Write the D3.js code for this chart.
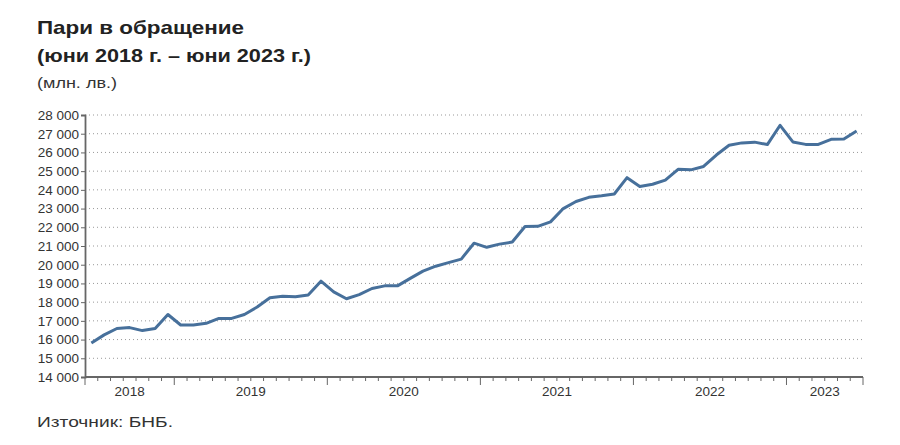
<!DOCTYPE html>
<html>
<head>
<meta charset="utf-8">
<script src="https://cdn.jsdelivr.net/npm/d3@7"></script>
<style>
  body { margin: 0; background: #fff; font-family: "Liberation Sans", Arial, sans-serif; }
</style>
</head>
<body>
<svg id="chart" width="900" height="445" viewBox="0 0 900 445"></svg>
<script>
// monthly values, June 2018 - June 2023 (million BGN)
const months = d3.range(61).map(i => new Date(2018, 5 + i, 1));
const currency = [
  15820, 16250, 16590, 16640, 16480, 16590, 17340, 16780, 16780, 16870,
  17130, 17130, 17340, 17740, 18230, 18320, 18290, 18380, 19120, 18550,
  18180, 18400, 18730, 18870, 18870, 19270, 19660, 19920, 20110, 20300,
  21150, 20930, 21100, 21210, 22040, 22050, 22290, 23000, 23380, 23600,
  23680, 23780, 24650, 24180, 24300, 24520, 25100, 25070, 25250, 25860,
  26380, 26510, 26550, 26420, 27450, 26560, 26430, 26430, 26700, 26720,
  27140
];
const yTicks = d3.range(14000, 28001, 1000);
const yearLabels = ["2018", "2019", "2020", "2021", "2022", "2023"];

const svg = d3.select("#chart");
const plotLeft = 85, plotRight = 863, plotTop = 115, plotBottom = 377;

// titles (text in the original is rendered wider than Liberation Sans, so stretch it)
function label(txt, xPos, yPos, size, bold, len, colour) {
  return svg.append("text").attr("x", xPos).attr("y", yPos)
    .style("font-size", size + "px").style("font-weight", bold ? "bold" : "normal")
    .attr("fill", colour)
    .attr("textLength", len).attr("lengthAdjust", "spacingAndGlyphs")
    .text(txt);
}
label("Пари в обращение", 37, 34, 18.5, true, 207, "#222");
label("(юни 2018 г. – юни 2023 г.)", 37, 62, 18.5, true, 274, "#222");
label("(млн. лв.)", 37, 88, 15, false, 80, "#333");

const x = d3.scaleBand().domain(d3.range(months.length)).range([plotLeft, plotRight]);
const y = d3.scaleLinear().domain([14000, 28000]).range([plotBottom, plotTop]);

// dotted grid
svg.append("g").selectAll("line")
  .data(yTicks.slice(1))
  .enter().append("line")
  .attr("x1", plotLeft).attr("x2", plotRight)
  .attr("y1", d => y(d)).attr("y2", d => y(d))
  .attr("stroke", "#999").attr("stroke-width", 1)
  .attr("stroke-dasharray", "1,3");

// y axis
const fmt = d => d3.format(",")(d).replace(/,/g, " ");
const yAxis = svg.append("g").attr("transform", `translate(${plotLeft},0)`)
  .call(d3.axisLeft(y).tickValues(yTicks).tickFormat(fmt).tickSize(4).tickPadding(2));
yAxis.select(".domain").attr("stroke", "#666").attr("stroke-width", 1.8);
yAxis.selectAll(".tick line").attr("stroke", "#666");
yAxis.selectAll("text").style("font-size", "13.5px").attr("fill", "#333")
  .style("font-family", "'Liberation Sans', Arial, sans-serif");

// x axis: baseline, month ticks, longer ticks at year starts
const xg = svg.append("g");
xg.append("line").attr("x1", plotLeft).attr("x2", plotRight)
  .attr("y1", plotBottom).attr("y2", plotBottom).attr("stroke", "#666").attr("stroke-width", 1.8);
const bounds = d3.range(months.length + 1);
xg.selectAll(".mt").data(bounds).enter().append("line")
  .attr("x1", i => i < months.length ? x(i) : plotRight)
  .attr("x2", i => i < months.length ? x(i) : plotRight)
  .attr("y1", plotBottom)
  .attr("y2", i => (i === 0 || i === months.length || months[i].getMonth() === 0) ? plotBottom + 8 : plotBottom + 4)
  .attr("stroke", "#666");

yearLabels.forEach(yr => {
  const idx = d3.range(months.length).filter(i => months[i].getFullYear() === +yr);
  const x0 = x(idx[0]), x1 = x(idx[idx.length - 1]) + x.bandwidth();
  xg.append("text").attr("x", (x0 + x1) / 2).attr("y", 396)
    .attr("text-anchor", "middle").style("font-size", "13.5px").attr("fill", "#333")
    .text(yr);
});

// line
const line = d3.line()
  .x((d, i) => x(i) + x.bandwidth() / 2)
  .y(d => y(d));
svg.append("path").datum(currency)
  .attr("d", line)
  .attr("fill", "none")
  .attr("stroke", "#47709b")
  .attr("stroke-width", 3)
  .attr("stroke-linejoin", "round");

// source
label("Източник: БНБ.", 37, 427, 15, false, 136, "#333");
</script>
</body>
</html>
